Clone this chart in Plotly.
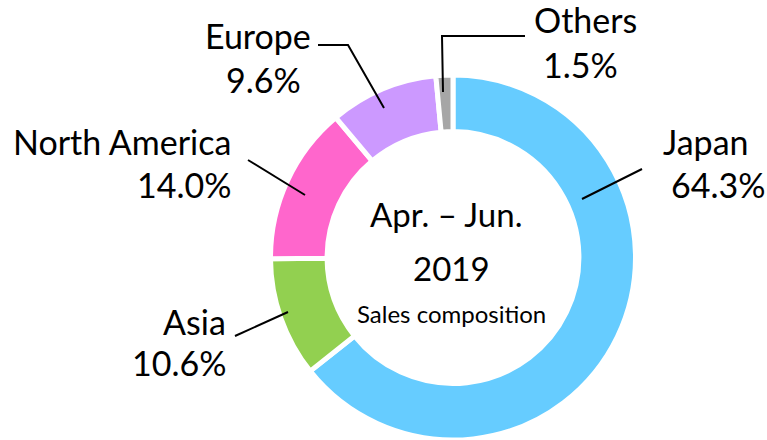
import plotly.graph_objects as go

# ---- data ----
regions = ["Japan", "Asia", "North America", "Europe", "Others"]
shares = [64.3, 10.6, 14.0, 9.6, 1.5]
colors = ["#66CCFF", "#92D050", "#FF66CC", "#CC99FF", "#A6A6A6"]
center_lines = ["Apr. – Jun.", "2019", "Sales composition"]

W, H = 767, 440
FONT = "Lato, Carlito, Calibri, sans-serif"

def px(x):
    return x / W

def py(y):
    return 1 - y / H

cx, cy, R = 453, 258, 183

fig = go.Figure(go.Pie(
    labels=regions, values=shares, sort=False, direction="clockwise",
    rotation=0, hole=0.69, textinfo="none", hoverinfo="label+percent",
    marker=dict(colors=colors, line=dict(color="white", width=5)),
    domain=dict(x=[px(cx - R), px(cx + R)], y=[0, (H - cy + R) / H]),
    showlegend=False,
))

# label positions (pixel) per region: (name x,y, pct x,y, anchor)
label_pos = {
    "Japan": ((706, 141), (718, 184), "center"),
    "Asia": ((228, 321), (228, 362), "right"),
    "North America": ((233, 141), (233, 185), "right"),
    "Europe": ((258, 36), (263, 79), "center"),
    "Others": ((585, 19), (580, 64), "center"),
}
LS = 34
ann = []
for name, val in zip(regions, shares):
    (nx, ny), (vx, vy), anc = label_pos[name]
    ann.append(dict(x=px(nx), y=py(ny), xref="paper", yref="paper", text=name,
                    showarrow=False, xanchor=anc, yanchor="middle",
                    font=dict(family=FONT, size=LS, color="black")))
    ann.append(dict(x=px(vx), y=py(vy), xref="paper", yref="paper", text=f"{val:.1f}%",
                    showarrow=False, xanchor=anc, yanchor="middle",
                    font=dict(family=FONT, size=LS, color="black")))

center_pos = [(446, 214, 33), (452, 268, 33), (451, 313, 24)]
for t, (x, y, s) in zip(center_lines, center_pos):
    ann.append(dict(x=px(x), y=py(y), xref="paper", yref="paper", text=t,
                    showarrow=False, xanchor="center", yanchor="middle",
                    font=dict(family=FONT, size=s, color="black")))

# leader lines (pixel paths)
leaders = [
    [(582, 199), (642, 169)],
    [(288, 312), (235, 336)],
    [(305, 195), (248, 160)],
    [(384, 108), (348, 45), (318, 45)],
    [(443, 92), (442, 36), (525, 36)],
]
shapes = []
for pts in leaders:
    path = "M " + " L ".join(f"{px(x)},{py(y)}" for x, y in pts)
    shapes.append(dict(type="path", path=path, xref="paper", yref="paper",
                       line=dict(color="black", width=2)))

fig.update_layout(
    width=W, height=H, margin=dict(l=0, r=0, t=0, b=0),
    paper_bgcolor="white", plot_bgcolor="white",
    annotations=ann, shapes=shapes,
)
fig.write_html("out.html", config={"displayModeBar": False},
               post_script="document.body.style.margin='0';document.body.style.overflow='hidden';")
